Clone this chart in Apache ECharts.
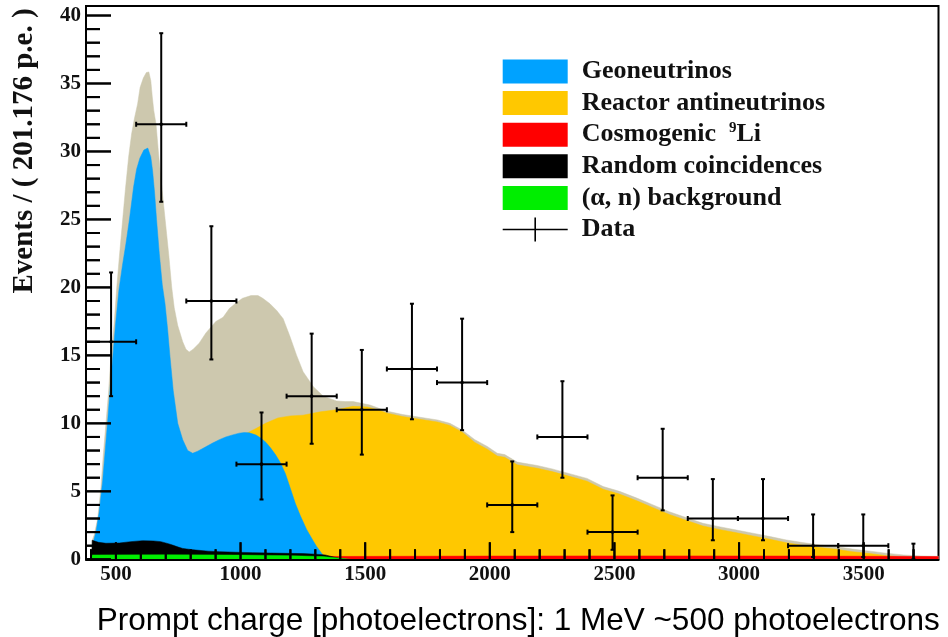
<!DOCTYPE html>
<html><head><meta charset="utf-8">
<script src="https://cdn.jsdelivr.net/npm/echarts@6/dist/echarts.min.js"></script>
<style>html,body{margin:0;padding:0;background:#fff}#c{width:948px;height:637px}</style>
</head><body><div id="c"></div>
<script>
// ---------- data ----------
const binWidth = 201.176;
const dataCenters = [480.6, 681.8, 882.9, 1084.1, 1285.3, 1486.5, 1687.6, 1888.8, 2090.0, 2291.2, 2492.4, 2693.5, 2894.7, 3095.9, 3297.0, 3498.2, 3699.4];
const dataCounts  = [16, 32, 19, 7, 12, 11, 14, 13, 4, 9, 2, 6, 3, 3, 1, 1, 0];
const dataLow     = [12.0, 26.3, 14.7, 4.4, 8.5, 7.7, 10.3, 9.5, 2.0, 6.0, 0.7, 3.6, 1.4, 1.4, 0.17, 0.17, 0];
const dataHigh    = [21.1, 38.7, 24.5, 10.8, 16.6, 15.4, 18.8, 17.7, 7.2, 13.1, 4.7, 9.6, 5.9, 5.9, 3.3, 3.3, 1.15];

const totalFit = [[402,0],[405,1.4],[413,1.8],[427,3.0],[440,5.3],[449,7.6],[460,10.0],[471,12.4],[480,14.9],[493,17.35],[503,19.9],[514,22.3],[527,24.95],[538,27.2],[551,29.6],[563,31.3],[574,32.4],[587,33.5],[597,34.7],[610,35.4],[622,35.8],[632,35.85],[640,35.2],[646,34.0],[652,33.0],[661,32.0],[671,29.85],[685,27.2],[698,24.9],[712,22.4],[724,20.0],[734,18.5],[748,17.2],[768,16.0],[781,15.45],[794,15.25],[810,15.45],[834,15.9],[861,16.65],[901,17.5],[930,17.8],[955,18.45],[985,18.9],[1008,19.2],[1042,19.4],[1070,19.4],[1089,19.2],[1118,18.8],[1145,18.3],[1171,17.7],[1198,16.4],[1225,15.0],[1251,13.8],[1292,12.7],[1332,12.0],[1385,11.65],[1420,11.6],[1452,11.6],[1519,11.35],[1586,10.9],[1650,10.65],[1720,10.45],[1790,10.25],[1840,10.0],[1890,9.5],[1940,8.8],[1990,8.3],[2030,7.8],[2060,7.7],[2110,7.15],[2190,6.9],[2250,6.65],[2320,6.3],[2390,5.95],[2455,5.35],[2520,5.0],[2590,4.5],[2655,4.0],[2720,3.5],[2790,3.05],[2855,2.65],[2920,2.4],[2990,2.15],[3055,1.92],[3125,1.67],[3190,1.42],[3255,1.23],[3325,1.05],[3390,0.93],[3455,0.75],[3525,0.6],[3590,0.45],[3660,0.32],[3730,0.25],[3800,0.22]];

const geoNeutrinos = [[405,0],[408,1.2],[420,2.0],[433,3.5],[447,5.8],[457,8.0],[467,10.2],[477,12.6],[488,15.0],[499,17.4],[512,19.8],[526,21.6],[540,23.2],[555,25.1],[571,27.4],[583,28.7],[596,29.5],[612,30.1],[628,30.25],[640,29.6],[647,28.6],[655,27.0],[663,25.0],[674,22.5],[686,20.2],[697,18.8],[707,17.0],[717,14.9],[730,12.4],[748,10.0],[768,8.8],[788,8.0],[808,7.8],[828,7.95],[848,8.15],[868,8.35],[888,8.55],[915,8.8],[941,9.0],[968,9.15],[995,9.28],[1015,9.32],[1035,9.3],[1062,9.14],[1082,8.9],[1102,8.6],[1120,8.2],[1140,7.7],[1160,7.1],[1180,6.3],[1200,5.2],[1220,4.1],[1240,3.2],[1265,2.2],[1290,1.4],[1305,0.95],[1325,0.45],[1340,0.15],[1355,0]];

const reactorAntineutrinos = [[405,0],[450,1.5],[550,3.5],[650,5.0],[750,6.4],[850,7.4],[950,8.4],[1000,8.9],[1022,9.25],[1060,9.6],[1100,10.0],[1150,10.4],[1200,10.55],[1250,10.6],[1320,10.85],[1385,11.0],[1450,11.25],[1510,11.2],[1550,11.0],[1590,10.75],[1650,10.5],[1720,10.3],[1790,10.1],[1840,9.85],[1890,9.35],[1940,8.6],[1990,8.1],[2030,7.6],[2060,7.5],[2110,6.95],[2190,6.7],[2250,6.45],[2320,6.1],[2390,5.75],[2455,5.15],[2520,4.8],[2590,4.3],[2655,3.8],[2720,3.3],[2790,2.85],[2855,2.45],[2920,2.2],[2990,1.95],[3055,1.72],[3125,1.47],[3190,1.22],[3255,1.03],[3325,0.86],[3390,0.74],[3455,0.56],[3525,0.42],[3590,0.27],[3660,0.14],[3730,0.06],[3800,0.03]];

const cosmogenicLi = [[403,0],[405,0.15],[800,0.18],[1200,0.2],[1600,0.22],[2000,0.24],[2400,0.25],[2800,0.25],[3200,0.24],[3600,0.22],[3800,0.2]];

const randomCoinc = [[403,0],[405,1.4],[430,1.25],[460,1.18],[514,1.2],[560,1.3],[607,1.37],[650,1.35],[680,1.3],[710,1.15],[727,1.05],[750,0.9],[768,0.8],[800,0.72],[821,0.68],[870,0.6],[915,0.56],[980,0.52],[1048,0.49],[1120,0.46],[1180,0.44],[1250,0.42],[1300,0.38],[1340,0.32],[1370,0.18],[1400,0.06],[1420,0]];

const alphaN = [[403,0],[405,0.32],[700,0.33],[1000,0.31],[1200,0.27],[1330,0.2],[1400,0.08],[1440,0]];

const xMin = 380, xMax = 3800, yMin = 0, yMax = 40.7;
const xMajorTicks = [500, 1000, 1500, 2000, 2500, 3000, 3500];
const xMinorTicks = [400, 600, 700, 800, 900, 1100, 1200, 1300, 1400, 1600, 1700, 1800, 1900, 2100, 2200, 2300, 2400, 2600, 2700, 2800, 2900, 3100, 3200, 3300, 3400, 3600, 3700];
const yMajorTicks = [0, 5, 10, 15, 20, 25, 30, 35, 40];
const yMinorTicks = [1, 2, 3, 4, 6, 7, 8, 9, 11, 12, 13, 14, 16, 17, 18, 19, 21, 22, 23, 24, 26, 27, 28, 29, 31, 32, 33, 34, 36, 37, 38, 39];

const names = ['Geoneutrinos', 'Reactor antineutrinos', 'Cosmogenic 9Li', 'Random coincidences', '(\u03B1, n) background', 'Data'];
const xTitle = 'Prompt charge [photoelectrons]: 1 MeV ~500 photoelectrons';
const yTitle = 'Events / ( 201.176 p.e. )';

// ---------- chart ----------
const SERIF = '"Liberation Serif", "Times New Roman", serif';
const LS = {color: '#000', width: 2};
const TICK_STYLE = {stroke: '#000', lineWidth: 2, fill: 'none', opacity: 1};

function area(name, data, color, z) {
  return {
    name: name, type: 'line', data: data, z: z, color: color,
    showSymbol: false, symbol: 'none', smooth: false, silent: true,
    lineStyle: {width: 0.5, color: color},
    itemStyle: {color: color},
    areaStyle: {color: color, opacity: 1}
  };
}

function renderErr(params, api) {
  const x = api.value(0), y = api.value(1), lo = api.value(2), hi = api.value(3);
  const h = binWidth / 2;
  const T = api.coord([x, hi]), B = api.coord([x, lo]);
  const st = {stroke: '#000', lineWidth: 2};
  const ch = [
    {type: 'line', shape: {x1: T[0], y1: T[1], x2: B[0], y2: B[1]}, style: st},
    {type: 'line', shape: {x1: T[0] - 2, y1: T[1], x2: T[0] + 2, y2: T[1]}, style: st},
    {type: 'line', shape: {x1: B[0] - 2, y1: B[1], x2: B[0] + 2, y2: B[1]}, style: st}
  ];
  if (y > 0) {
    const L = api.coord([x - h, y]), R = api.coord([x + h, y]), C = api.coord([x, y]);
    ch.push({type: 'line', shape: {x1: L[0], y1: L[1], x2: R[0], y2: R[1]}, style: st});
    ch.push({type: 'line', shape: {x1: L[0], y1: L[1] - 2.5, x2: L[0], y2: L[1] + 2.5}, style: st});
    ch.push({type: 'line', shape: {x1: R[0], y1: R[1] - 2.5, x2: R[0], y2: R[1] + 2.5}, style: st});
    ch.push({type: 'circle', shape: {cx: C[0], cy: C[1], r: 1.8}, style: {fill: '#000'}});
  }
  return {type: 'group', children: ch};
}

function renderXTick(params, api) {
  const p = api.coord([api.value(0), yMin]);
  const len = api.value(2) ? 17 : 10;
  return {type: 'line', shape: {x1: p[0], y1: p[1], x2: p[0], y2: p[1] - len}, style: TICK_STYLE};
}
function renderYTick(params, api) {
  const p = api.coord([xMin, api.value(1)]);
  const len = api.value(2) ? 25 : 14;
  return {type: 'line', shape: {x1: p[0], y1: p[1], x2: p[0] + len, y2: p[1]}, style: TICK_STYLE};
}

const titleGraphic = {
  id: 'ytitle', type: 'text', x: 25, y: 151, rotation: Math.PI / 2, z: 50,
  style: {text: yTitle, fontFamily: SERIF, fontWeight: 'bold', fontSize: 29, fill: '#111', align: 'center', verticalAlign: 'middle'}
};

const chart = echarts.init(document.getElementById('c'));
chart.setOption({
  animation: false,
  backgroundColor: '#fff',
  grid: {left: 86, top: 6, width: 852.5, height: 553.3, containLabel: false, outerBoundsMode: 'none',
         show: true, borderColor: '#000', borderWidth: 2, backgroundColor: 'transparent'},
  xAxis: {type: 'value', min: xMin, max: xMax, position: 'bottom', z: 20,
     axisLine: {show: true, onZero: false, lineStyle: LS},
     axisTick: {show: false},
     axisLabel: {show: true, customValues: xMajorTicks, margin: 5, fontFamily: SERIF, fontWeight: 'bold', fontSize: 21, color: '#111',
       formatter: function (v) { return String(v); }},
     splitLine: {show: false},
     name: xTitle, nameLocation: 'middle', nameGap: 46,
     nameTextStyle: {fontFamily: '"Liberation Sans", Arial, sans-serif', fontSize: 31.5, color: '#000', padding: [0, 0, 0, 12]}},
  yAxis: {type: 'value', min: yMin, max: yMax, interval: 5, position: 'left', z: 20,
     axisLine: {show: true, onZero: false, lineStyle: LS},
     axisTick: {show: false},
     axisLabel: {show: true, margin: 5, showMaxLabel: false, fontFamily: SERIF, fontWeight: 'bold', fontSize: 21, color: '#111',
       formatter: function (v) { return (Math.abs(v % 5) < 1e-9) ? String(v) : ''; }},
     splitLine: {show: false}},
  legend: {
    orient: 'vertical', left: 502.7, top: 57.5, padding: 0,
    itemWidth: 65, itemHeight: 24, itemGap: 3.6, selectedMode: false,
    data: [
      {name: names[0], icon: 'rect'},
      {name: names[1], icon: 'rect'},
      {name: names[2], icon: 'rect'},
      {name: names[3], icon: 'rect'},
      {name: names[4], icon: 'rect'},
      {name: names[5], icon: 'path://M0,11.2H65V12.8H0Z M31.7,0H33.3V24H31.7Z'}
    ],
    formatter: function (n) { return n === names[2] ? 'Cosmogenic  {sup|9}Li' : n; },
    textStyle: {fontFamily: SERIF, fontWeight: 'bold', fontSize: 26, color: '#111', lineHeight: 28, padding: [0, 0, 0, 9],
      rich: {sup: {fontFamily: SERIF, fontWeight: 'bold', fontSize: 15, color: '#111', verticalAlign: 'top', lineHeight: 14}}}
  },
  graphic: [titleGraphic],
  series: [
    area('Total fit', totalFit, '#cdc8ae', 1),
    area(names[1], reactorAntineutrinos, '#ffc800', 2),
    area(names[0], geoNeutrinos, '#00a2ff', 3),
    area(names[2], cosmogenicLi, '#ff0000', 4),
    area(names[3], randomCoinc, '#000000', 5),
    area(names[4], alphaN, '#00ee00', 6),
    {name: names[5], type: 'custom', z: 10, color: '#000', itemStyle: {color: '#000'}, clip: false,
     renderItem: renderErr,
     encode: {x: 0, y: 1},
     data: dataCenters.map(function (x, i) { return [x, dataCounts[i], dataLow[i], dataHigh[i]]; })},
    {name: 'x ticks', type: 'custom', z: 20, silent: true, clip: false, renderItem: renderXTick, encode: {x: 0, y: 1},
     data: xMajorTicks.map(function (v) { return [v, yMin, 1]; }).concat(xMinorTicks.map(function (v) { return [v, yMin, 0]; }))},
    {name: 'y ticks', type: 'custom', z: 20, silent: true, clip: false, renderItem: renderYTick, encode: {x: 0, y: 1},
     data: yMajorTicks.map(function (v) { return [xMin, v, 1]; }).concat(yMinorTicks.map(function (v) { return [xMin, v, 0]; }))}
  ]
});

// inward tick marks, positioned through the grid's own scales
(function addTicks() {
  const els = [titleGraphic];
  function px(v) { return chart.convertToPixel({gridIndex: 0}, v); }
  function xt(v, len) {
    const p = px([v, yMin]);
    els.push({type: 'line', z: 100, silent: true, shape: {x1: p[0], y1: p[1], x2: p[0], y2: p[1] - len}, style: {stroke: '#000', lineWidth: 2}});
  }
  function yt(v, len) {
    const p = px([xMin, v]);
    els.push({type: 'line', z: 100, silent: true, shape: {x1: p[0], y1: p[1], x2: p[0] + len, y2: p[1]}, style: {stroke: '#000', lineWidth: 2}});
  }
  xMajorTicks.forEach(function (v) { xt(v, 17); });
  xMinorTicks.forEach(function (v) { xt(v, 10); });
  yMajorTicks.forEach(function (v) { yt(v, 25); });
  yMinorTicks.forEach(function (v) { yt(v, 14); });
  chart.setOption({graphic: els});
})();
</script>
</body></html>
